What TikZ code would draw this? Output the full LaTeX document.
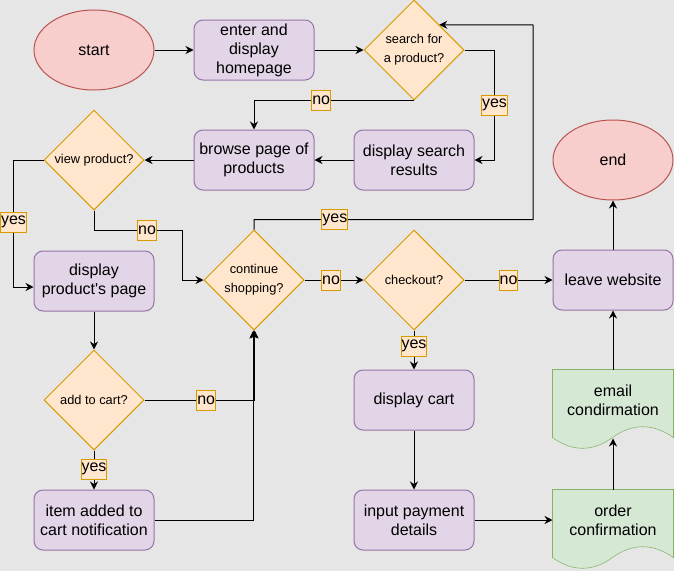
\documentclass[tikz,border=0pt]{standalone}
\usepackage{fontspec}
\setmainfont{Liberation Sans}
\usetikzlibrary{shapes.geometric,arrows.meta,backgrounds}

\definecolor{bggray}{HTML}{E6E6E6}
\definecolor{pinkfill}{HTML}{F8CECC}
\definecolor{pinkline}{HTML}{B85450}
\definecolor{purplefill}{HTML}{E1D5E7}
\definecolor{purpleline}{HTML}{9673A6}
\definecolor{orangefill}{HTML}{FFE6CC}
\definecolor{orangeline}{HTML}{D79B00}
\definecolor{greenfill}{HTML}{D5E8D4}
\definecolor{greenline}{HTML}{82B366}

% wavy paper outline behind a docnode
\newcommand{\docpath}[1]{%
  \draw[draw=greenline,fill=greenfill] (#1.north west) -- (#1.north east)
    -- ([shift={(0,68)}]#1.north east)
    .. controls ([shift={(100,53.6)}]#1.north west) and ([shift={(80,53.6)}]#1.north west)
    .. ([shift={(60,68)}]#1.north west)
    .. controls ([shift={(40,82.4)}]#1.north west) and ([shift={(20,82.4)}]#1.north west)
    .. ([shift={(0,68)}]#1.north west) -- cycle;}

\begin{document}
\begin{tikzpicture}[x=0.75pt,y=-0.75pt,line width=0.75pt,
  >={Stealth[length=6pt,width=6pt,inset=2pt]},
  termnode/.style={ellipse,draw=pinkline,fill=pinkfill,minimum width=90pt,minimum height=60pt,inner sep=0pt,font=\fontsize{12}{14.3}\selectfont},
  procbox/.style={rectangle,rounded corners=6.75pt,draw=purpleline,fill=purplefill,minimum width=90pt,minimum height=45pt,inner sep=0pt,align=center,font=\fontsize{12}{14.3}\selectfont},
  decbox/.style={diamond,draw=orangeline,fill=orangefill,minimum width=75pt,minimum height=75pt,inner sep=0pt,align=center,font=\fontsize{9.6}{14}\selectfont},
  docnode/.style={rectangle,minimum width=90pt,minimum height=45pt,inner sep=0pt,align=center,font=\fontsize{12}{14.3}\selectfont},
  answer/.style={draw=orangeline,fill=orangefill,inner xsep=0.4pt,inner ysep=0pt,minimum height=15pt,font=\fontsize{12}{14}\selectfont}]

\useasboundingbox (0,0) rectangle (674,571);
\begin{scope}[on background layer]
  \fill[bggray] (0,0) rectangle (674,571);
\end{scope}

\node[termnode] (start) at (94,50) {start};
\node[procbox] (home) at (254,50) {enter and\\display\\homepage};
\node[decbox] (search) at (414,50) {search for\\a product?};

\node[decbox] (view) at (94,160) {view product?};
\node[procbox] (browse) at (254,160) {browse page of\\products};
\node[procbox] (results) at (414,160) {display search\\results};
\node[termnode] (finish) at (613,160) {end};

\node[procbox] (product) at (94,281) {display\\product\textquotesingle s page};
\node[decbox] (cont) at (254,280) {continue\\shopping?};
\node[decbox] (checkout) at (414,280) {checkout?};
\node[procbox] (leave) at (613,280) {leave website};

\node[decbox] (addcart) at (94,400) {add to cart?};
\node[procbox] (cart) at (414,400) {display cart};
\node[docnode] (email) at (613,400) {email\\condirmation};

\node[procbox] (added) at (94,520) {item added to\\cart notification};
\node[procbox] (payment) at (414,520) {input payment\\details};
\node[docnode] (order) at (613,520) {order\\confirmation};

\begin{scope}[on background layer]
  \docpath{email}
  \docpath{order}
\end{scope}

\coordinate (loop) at (533,25);

\draw[->] (start) -- (home);
\draw[->] (home) -- (search);
\draw[->] (search.east) -- ++(30,0) |- node[answer,pos=0.25] {yes} (results.east);
\draw[->] (search.south) -| node[answer,pos=0.29] {no} (browse.north);
\draw[->] (results) -- (browse);
\draw[->] (browse) -- (view);
\draw[->] (view.west) -- ++(-30,0) |- node[answer,pos=0.245] {yes} ([shift={(0,6)}]product.west);
\draw[->] (view.south) -- ++(0,20) -| node[answer,pos=0.3] {no} ([shift={(-21,0)}]cont.west) -- (cont.west);

\draw[->] (product) -- (addcart);
\draw[->] (addcart.east) -| node[answer,pos=0.28] {no} ([shift={(0.7,0)}]cont.south);
\draw[->] (addcart) -- node[answer,pos=0.48] {yes} (added);
\draw[->] (added.east) -| ([shift={(-0.7,0)}]cont.south);

\draw[->] (cont.north) -- ++(0,-10) -| node[answer,pos=0.145] {yes} (loop) -- (search.north east);
\draw[->] (cont) -- node[answer,pos=0.45] {no} (checkout);
\draw[->] (checkout) -- node[answer] {no} (leave);
\draw[->] (checkout) -- node[answer,pos=0.4] {yes} (cart);

\draw[->] (cart) -- (payment);
\draw[->] (payment) -- (order);
\draw[->] (order) -- ([yshift=-6pt]email.south);
\draw[->] (email) -- (leave);
\draw[->] (leave) -- (finish);

\end{tikzpicture}
\end{document}
